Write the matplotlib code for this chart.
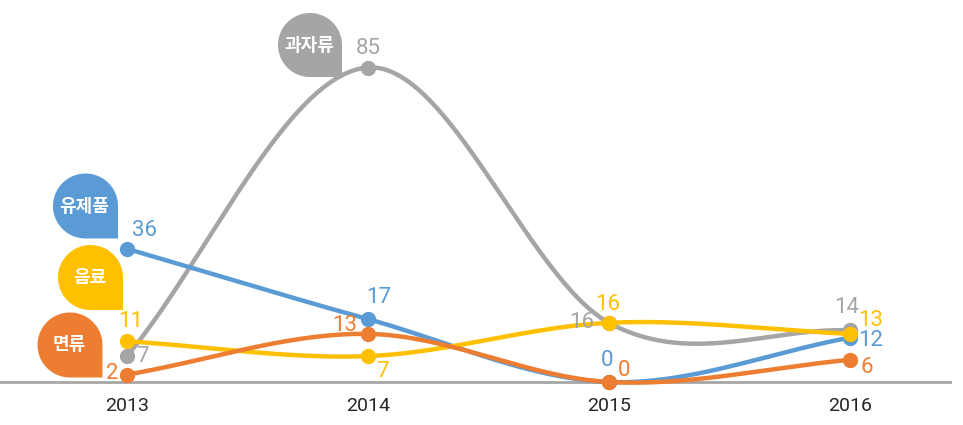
import numpy as np
import matplotlib
matplotlib.use("Agg")
import matplotlib.pyplot as plt
from matplotlib.patches import Polygon

# data
years = ["2013", "2014", "2015", "2016"]
snack = [7, 85, 16, 14]      # 과자류
dairy = [36, 17, 0, 12]      # 유제품
drink = [11, 7, 16, 13]      # 음료
noodle = [2, 13, 0, 6]       # 면류
names = ["과자류", "유제품", "음료", "면류"]

colors = ["#A5A5A5", "#5B9BD5", "#FFC000", "#ED7D31"]

W, H = 963, 425
fig = plt.figure(figsize=(W / 100, H / 100), dpi=100)

# main axes: x=0..3 -> px 127..850, y=0 at px 382
px_unit = 241.0
y_scale = 3.70
ax = fig.add_axes([0, (H - 382) / H, 950 / W, 382 / H])
ax.set_xlim(-127 / px_unit, 3 + 100 / px_unit)
ax.set_ylim(0, 382 / y_scale)
for s in ["top", "right", "left"]:
    ax.spines[s].set_visible(False)
ax.spines["bottom"].set_color("#A6A6A6")
ax.spines["bottom"].set_linewidth(2.0)
ax.set_yticks([])
ax.set_xticks(range(len(years)))
ax.set_xticklabels(years, fontsize=14, color="#262626", family=["Roboto", "DejaVu Sans"])
ax.tick_params(axis="x", length=0, pad=11)
ax.patch.set_alpha(0)


def smooth(vals, n=60):
    # catmull-rom style smoothing through the points
    v = np.asarray(vals, dtype=float)
    k = len(v)
    m = np.zeros(k)
    m[0] = v[1] - v[0]
    m[-1] = v[-1] - v[-2]
    m[1:-1] = (v[2:] - v[:-2]) / 2
    xs, ys = [], []
    for i in range(k - 1):
        t = np.linspace(0, 1, n)
        h00 = 2 * t**3 - 3 * t**2 + 1
        h10 = t**3 - 2 * t**2 + t
        h01 = -2 * t**3 + 3 * t**2
        h11 = t**3 - t**2
        xs.append(i + t)
        ys.append(h00 * v[i] + h10 * m[i] + h01 * v[i + 1] + h11 * m[i + 1])
    return np.concatenate(xs), np.concatenate(ys)


series = [snack, dairy, drink, noodle]
x = np.arange(len(years))
for z, (vals, c) in enumerate(zip(series, colors)):
    sx, sy = smooth(vals)
    ax.plot(sx, sy, color=c, lw=3.2, clip_on=False, zorder=3 + z, solid_capstyle="round")
    ax.plot(x, vals, "o", color=c, ms=10, clip_on=False, zorder=3 + z)

# value labels: (dx, dy) in pixels, ha, va
offsets = [
    [(9, 0, "left", "center"), (0, 8, "center", "bottom"), (-15, 0, "right", "center"), (-3, 12, "center", "bottom")],
    [(5, 8, "left", "bottom"), (-2, 11, "left", "bottom"), (-2, 11, "center", "bottom"), (8, -3, "left", "center")],
    [(4, 9, "center", "bottom"), (8, -15, "left", "center"), (-1, 8, "center", "bottom"), (8, 13, "left", "center")],
    [(-9, 1, "right", "center"), (-11, 8, "right", "center"), (9, 12, "left", "center"), (10, -8, "left", "center")],
]
num_font = dict(family=["Roboto", "DejaVu Sans"], fontsize=16)
for vals, c, offs in zip(series, colors, offsets):
    for i, (v, o) in enumerate(zip(vals, offs)):
        dx, dy, ha, va = o
        ax.annotate(str(v), (i, v), xytext=(dx * 0.72, dy * 0.72), textcoords="offset points",
                    ha=ha, va=va, color=c, zorder=10, annotation_clip=False, **num_font)

# overlay for the name bubbles, pixel coordinates
ov = fig.add_axes([0, 0, 1, 1])
ov.set_xlim(0, W)
ov.set_ylim(H, 0)
ov.axis("off")
ov.patch.set_alpha(0)

bubbles = [(310, 45, 32), (85.5, 206, 32.5), (90.5, 277.5, 32.5), (70, 345, 32.5)]
for (cx, cy, r), c, name in zip(bubbles, colors, names):
    th = np.linspace(0, 1.5 * np.pi, 80)
    pts = np.column_stack([cx + r * np.cos(th), cy - r * np.sin(th)])
    pts = np.vstack([pts, [cx + r, cy + r]])
    ov.add_patch(Polygon(pts, closed=True, facecolor=c, edgecolor="none"))
    ov.text(cx - 1, cy, name, ha="center", va="center", color="white", fontsize=13,
            fontweight="bold", family=["Noto Sans CJK KR", "DejaVu Sans"])

fig.savefig("out.png", dpi=100)
